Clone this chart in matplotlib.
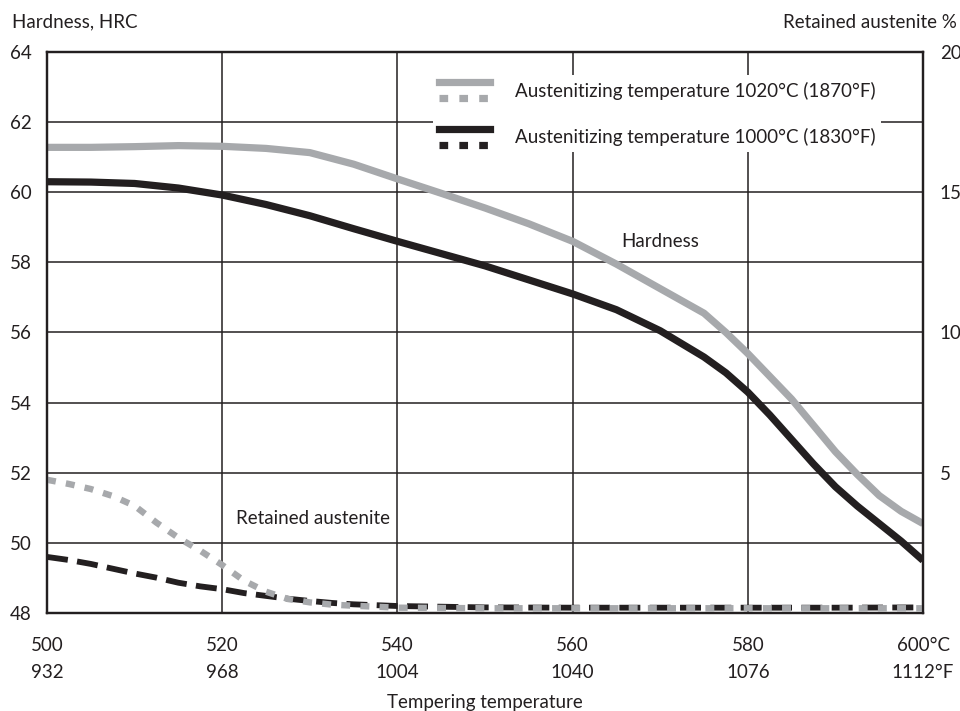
import numpy as np
import matplotlib
matplotlib.use("Agg")
import matplotlib.pyplot as plt
from matplotlib.lines import Line2D
from matplotlib.legend_handler import HandlerBase

plt.rcParams['font.family'] = ['Lato', 'Open Sans', 'DejaVu Sans']
plt.rcParams['font.size'] = 13.5

INK = "#231f20"
GREY = "#a7a9ac"

# tempering temperature, degC (hardness curves)
temp_h = [500, 505, 510, 515, 520, 525, 530, 535, 540, 545, 550, 555, 560,
          565, 570, 575, 577.5, 580, 582.5, 585, 587.5, 590, 592.5, 595, 597.5, 600]
# hardness HRC
hrc_1020 = [61.28, 61.28, 61.3, 61.33, 61.31, 61.25, 61.13, 60.8, 60.38, 59.97,
            59.55, 59.1, 58.6, 57.95, 57.25, 56.55, 56.0, 55.4, 54.75, 54.1,
            53.35, 52.6, 51.95, 51.35, 50.9, 50.55]
hrc_1000 = [60.3, 60.29, 60.25, 60.12, 59.92, 59.65, 59.33, 58.96, 58.6, 58.25,
            57.9, 57.5, 57.1, 56.65, 56.05, 55.3, 54.85, 54.3, 53.65, 52.95,
            52.25, 51.6, 51.05, 50.55, 50.05, 49.5]

# tempering temperature, degC (retained austenite curves)
temp_ra = [500, 502.5, 505, 507.5, 510, 512.5, 515, 517.5, 520, 522.5, 525,
           527.5, 530, 532.5, 535, 540, 550, 560, 570, 580, 590, 600]
# retained austenite %
ra_1020 = [4.75, 4.6, 4.42, 4.17, 3.82, 3.22, 2.68, 2.22, 1.71, 1.15, 0.76,
           0.5, 0.38, 0.3, 0.26, 0.19, 0.17, 0.17, 0.17, 0.17, 0.17, 0.17]
ra_1000 = [2.0, 1.89, 1.75, 1.58, 1.41, 1.26, 1.08, 0.95, 0.85, 0.71, 0.61,
           0.51, 0.43, 0.36, 0.31, 0.25, 0.2, 0.19, 0.19, 0.19, 0.19, 0.2]

xticks_c = [500, 520, 540, 560, 580, 600]
xticks_f = ["932", "968", "1004", "1040", "1076", "1112°F"]
hrc_ticks = [48, 50, 52, 54, 56, 58, 60, 62, 64]
ra_ticks = [5, 10, 15, 20]


class StackedHandler(HandlerBase):
    # solid line on top, dotted line below it
    def create_artists(self, legend, orig_handle, xdescent, ydescent,
                       width, height, fontsize, trans):
        out = []
        mid = height / 2 - ydescent
        for h, off in zip(orig_handle, (6.0, -5.5)):
            l = Line2D([-xdescent, -xdescent + width], [mid + off, mid + off])
            l.update_from(h)
            l.set_transform(trans)
            out.append(l)
        return out


fig = plt.figure(figsize=(9.6, 7.11), dpi=100)
ax = fig.add_axes([0.049, 0.1378, 0.9125, 0.7891])
ax2 = ax.twinx()

ax.plot(temp_h, hrc_1020, color=GREY, lw=5.2, solid_capstyle='butt')
ax.plot(temp_h, hrc_1000, color=INK, lw=5.2, solid_capstyle='butt')
ax2.plot(temp_ra, ra_1000, color=INK, lw=4.2, ls=(0, (3.6, 1.6)))
ax2.plot(temp_ra, ra_1020, color=GREY, lw=4.6, ls=(0, (1.4, 1.6)))

ax.set_xlim(500, 600)
ax.set_ylim(48, 64)
ax2.set_ylim(0, 20)

ax.set_xticks(xticks_c)
labels = [f"{c}\n{f}" for c, f in zip(xticks_c, xticks_f)]
labels[-1] = f"{xticks_c[-1]}°C\n{xticks_f[-1]}"
ax.set_xticklabels(labels, linespacing=1.75)
ax.set_yticks(hrc_ticks)
ax2.set_yticks(ra_ticks)
ax.tick_params(axis='y', length=0, pad=11, colors=INK)
ax.tick_params(axis='x', length=0, pad=17, colors=INK)
ax2.tick_params(axis='y', length=0, pad=12, colors=INK)

ax.grid(True, color=INK, lw=1.1)
ax.set_axisbelow(True)
for a in (ax, ax2):
    for s in a.spines.values():
        s.set_linewidth(1.6)
        s.set_color(INK)

fig.text(0.0125, 0.969, "Hardness, HRC", ha='left', va='center', color=INK)
fig.text(0.997, 0.969, "Retained austenite %", ha='right', va='center', color=INK)
ax.set_xlabel("Tempering temperature", color=INK, labelpad=9)

ax.text(570, 58.6, "Hardness", ha='center', va='center', color=INK)
ax.text(530.4, 50.7, "Retained austenite", ha='center', va='center', color=INK)

h1 = (Line2D([], [], color=GREY, lw=5.2),
      Line2D([], [], color=GREY, lw=5.2, ls=(0, (1.2, 1.55))))
h2 = (Line2D([], [], color=INK, lw=5.2),
      Line2D([], [], color=INK, lw=5.2, ls=(0, (1.2, 1.55))))
leg = ax2.legend([h1, h2],
                 ["Austenitizing temperature 1020°C (1870°F)",
                  "Austenitizing temperature 1000°C (1830°F)"],
                 handler_map={tuple: StackedHandler()},
                 loc='upper left', bbox_to_anchor=(0.43, 0.975),
                 frameon=True, fancybox=False, edgecolor='none', framealpha=1,
                 handlelength=2.72, handleheight=1.2, labelspacing=1.45,
                 handletextpad=1.33, borderpad=0.3)
for t in leg.get_texts():
    t.set_color(INK)

fig.savefig("out.png", dpi=100)
